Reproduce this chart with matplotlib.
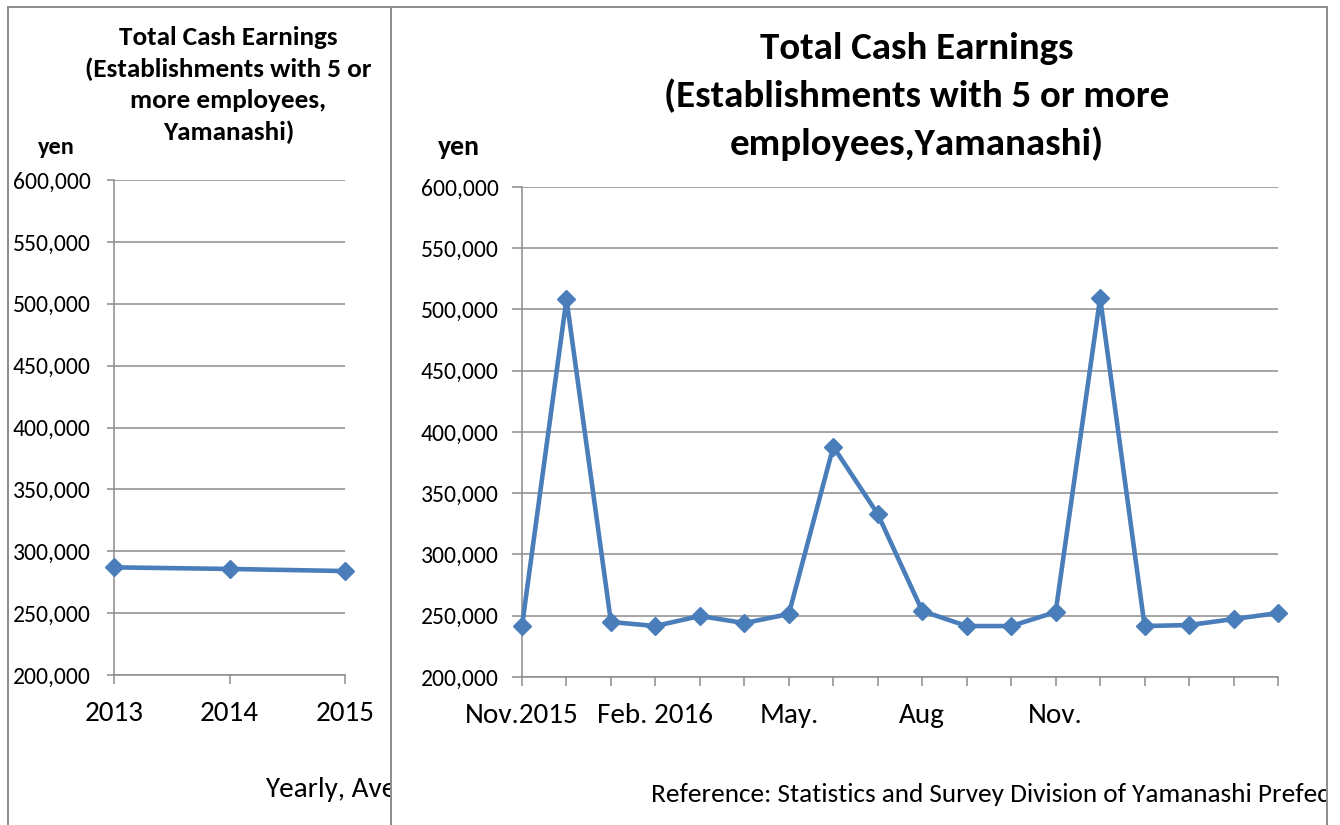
import matplotlib
matplotlib.use("Agg")
import matplotlib.pyplot as plt
from matplotlib import font_manager
from matplotlib.patches import Rectangle
from matplotlib.lines import Line2D
from matplotlib.ticker import FuncFormatter

# ---------------- data ----------------
years = ["2013", "2014", "2015"]
yearly_values = [287000, 285700, 284000]

month_labels = ["Nov.2015", "", "", "Feb. 2016", "", "", "May.", "", "", "Aug", "", "",
                "Nov.", "", "", "", "", ""]
monthly_values = [241600, 508500, 244900, 241600, 249800, 244000, 251400, 388000,
                  333000, 253900, 241600, 241600, 253000, 509400, 241600, 242400,
                  247300, 252200]

yticks = [200000, 250000, 300000, 350000, 400000, 450000, 500000, 550000, 600000]

title_left = "Total Cash Earnings\n(Establishments with 5 or\nmore employees,\nYamanashi)"
title_right = "Total Cash Earnings\n(Establishments with 5 or more\nemployees,Yamanashi)"
unit = "yen"
note_left = "Yearly, Average"
note_right = "Reference: Statistics and Survey Division of Yamanashi Prefecture"

# ---------------- fonts ----------------
names = {f.name for f in font_manager.fontManager.ttflist}
FONT = "Carlito" if "Carlito" in names else "Lato"
sc = 1.0 if FONT == "Carlito" else 0.88

LINE_COLOR = "#4A7EBB"
GRID_COLOR = "#8C8C8C"
BORDER_COLOR = "#8E8E8E"

W, H = 1340, 825
fig = plt.figure(figsize=(W / 100, H / 100), dpi=100)


def fx(px):
    return px / W


def fy(py):
    return 1 - py / H


fmt = FuncFormatter(lambda v, p: f"{int(v):,}")


def style_axes(ax, ylen, ypad, xlen, xpad, ysize, xsize):
    ax.set_ylim(200000, 600000)
    ax.set_yticks(yticks)
    ax.yaxis.set_major_formatter(fmt)
    ax.grid(axis="y", color=GRID_COLOR, lw=1.1)
    ax.set_axisbelow(True)
    for s in ["top", "right"]:
        ax.spines[s].set_visible(False)
    for s in ["left", "bottom"]:
        ax.spines[s].set_color(GRID_COLOR)
        ax.spines[s].set_linewidth(1.1)
    ax.tick_params(axis="y", length=ylen, width=1.1, color=GRID_COLOR, pad=ypad,
                   labelsize=ysize)
    ax.tick_params(axis="x", length=xlen, width=1.1, color=GRID_COLOR, pad=xpad,
                   labelsize=xsize)
    for lab in ax.get_xticklabels() + ax.get_yticklabels():
        lab.set_fontfamily(FONT)


# ---------------- left panel ----------------
axL = fig.add_axes([fx(114), fy(675), fx(345 - 114), (675 - 180) / H])
axL.set_zorder(0)
axL.plot(range(len(years)), yearly_values, color=LINE_COLOR, lw=3.3,
         marker="D", ms=9.5, mfc=LINE_COLOR, mec=LINE_COLOR, clip_on=False, zorder=5)
axL.set_xlim(0, len(years) - 1)
axL.set_xticks(range(len(years)))
axL.set_xticklabels(years)
style_axes(axL, 5, 12, 6.5, 12.5, 17 * sc, 21 * sc)

fig.text(fx(228.5), fy(85), title_left, ha="center", va="center",
         fontsize=19.5 * sc, fontweight="bold", family=FONT, linespacing=1.42)
fig.text(fx(38), fy(147), unit, ha="left", va="center",
         fontsize=17.5 * sc, fontweight="bold", family=FONT)
fig.text(fx(265), fy(790), note_left, ha="left", va="center",
         fontsize=21 * sc, family=FONT, zorder=1)

# ---------------- right panel background (covers left overflow) ----------------
fig.patches.append(Rectangle((fx(391), 0), fx(1327 - 391), fy(7), transform=fig.transFigure,
                             facecolor="white", edgecolor="none", zorder=1.5))

# ---------------- right panel ----------------
axR = fig.add_axes([fx(522), fy(677), fx(1278 - 522), (677 - 187) / H])
axR.set_zorder(2)
axR.patch.set_alpha(0)
xs = range(len(monthly_values))
axR.plot(xs, monthly_values, color=LINE_COLOR, lw=3.3,
         marker="D", ms=9.5, mfc=LINE_COLOR, mec=LINE_COLOR, clip_on=False, zorder=5)
axR.set_xlim(0, len(monthly_values) - 1)
axR.set_xticks(list(xs))
axR.set_xticklabels(month_labels)
style_axes(axR, 7, 10, 6.5, 12.5, 17 * sc, 21 * sc)

fig.text(fx(917), fy(96.5), title_right, ha="center", va="center",
         fontsize=28 * sc, fontweight="bold", family=FONT, linespacing=1.48, zorder=3)
fig.text(fx(438), fy(147), unit, ha="left", va="center",
         fontsize=20 * sc, fontweight="bold", family=FONT, zorder=3)
tr = fig.text(fx(651), fy(795), note_right, ha="left", va="center",
              fontsize=19.6 * sc, family=FONT, zorder=3)
tr.set_clip_path(Rectangle((0, 0), fx(1326), 1, transform=fig.transFigure))

# ---------------- panel borders ----------------
bw = 2.0 * 72 / 100
for (x0, y0, x1, y1) in [(8, 7, 1327, 7), (8, 7, 8, 825), (391, 7, 391, 825),
                         (1327, 7, 1327, 825)]:
    fig.lines.append(Line2D([fx(x0), fx(x1)], [fy(y0), fy(y1)], transform=fig.transFigure,
                            color=BORDER_COLOR, lw=bw, zorder=4))

fig.savefig("out.png", dpi=100, facecolor="white")
